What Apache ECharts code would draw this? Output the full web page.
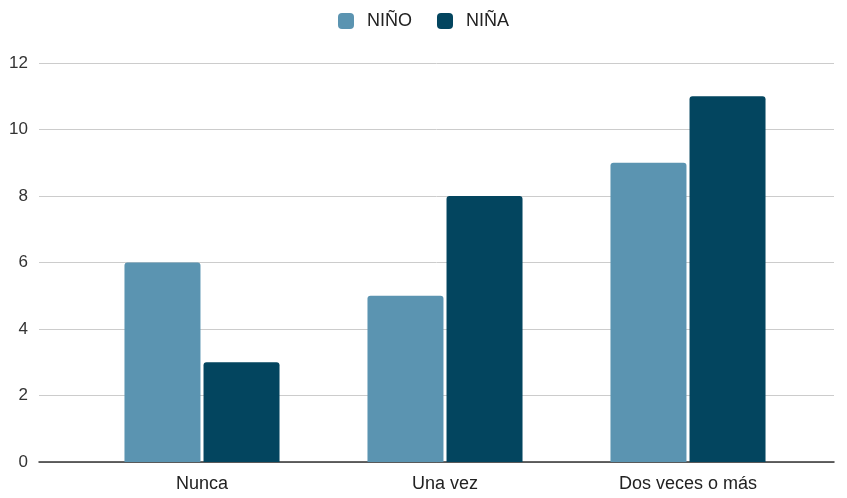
<!DOCTYPE html>
<html>
<head>
<meta charset="utf-8">
<script src="https://cdn.jsdelivr.net/npm/echarts@6/dist/echarts.min.js"></script>
<style>html,body{margin:0;padding:0;background:#fff}#c{width:847px;height:498px}</style>
</head>
<body>
<div id="c"></div>
<script>
const categories = ['Nunca', 'Una vez', 'Dos veces o más'];
const seriesNames = ['NIÑO', 'NIÑA'];
const ninoValues = [6, 5, 9];
const ninaValues = [3, 8, 11];
const yTicks = [0, 2, 4, 6, 8, 10, 12];

const chart = echarts.init(document.getElementById('c'));
const font = '"Liberation Sans", Arial, sans-serif';
chart.setOption({
  animation: false,
  textStyle: { fontFamily: font },
  legend: {
    top: 7, left: 'center',
    itemWidth: 16, itemHeight: 16, itemGap: 25,
    icon: 'roundRect',
    textStyle: { fontSize: 18, color: '#222', fontFamily: font, padding: [0, 0, 0, 8] },
    data: seriesNames
  },
  grid: [
    { left: 39, right: 13, top: 63, bottom: 36 },
    { left: 80.5, right: 37.5, top: 63, bottom: 36 }
  ],
  xAxis: [
    { gridIndex: 0, type: 'value', min: 0, max: 1, show: true,
      axisLine: { show: true, lineStyle: { color: '#333', width: 1.5 } },
      axisTick: { show: false }, axisLabel: { show: false }, splitLine: { show: false } },
    { gridIndex: 1, type: 'category', data: categories,
      axisLine: { show: false }, axisTick: { show: false },
      axisLabel: { fontSize: 18, color: '#222', margin: 13, fontFamily: font } }
  ],
  yAxis: [
    { gridIndex: 0, type: 'value', min: yTicks[0], max: yTicks[yTicks.length - 1], interval: 2,
      axisLine: { show: false }, axisTick: { show: false },
      axisLabel: { fontSize: 17, color: '#333', margin: 11, fontFamily: font },
      splitLine: { lineStyle: { color: '#cccccc', width: 1 } } },
    { gridIndex: 1, type: 'value', min: yTicks[0], max: yTicks[yTicks.length - 1], interval: 2, show: false,
      splitLine: { show: false } }
  ],
  series: [
    { name: seriesNames[0], type: 'bar', xAxisIndex: 1, yAxisIndex: 1, data: ninoValues,
      barWidth: 76, barGap: '4%',
      itemStyle: { color: '#5b94b1', borderRadius: [3, 3, 0, 0] } },
    { name: seriesNames[1], type: 'bar', xAxisIndex: 1, yAxisIndex: 1, data: ninaValues,
      barWidth: 76, barGap: '4%',
      itemStyle: { color: '#03455f', borderRadius: [3, 3, 0, 0] } }
  ]
});
</script>
</body>
</html>
